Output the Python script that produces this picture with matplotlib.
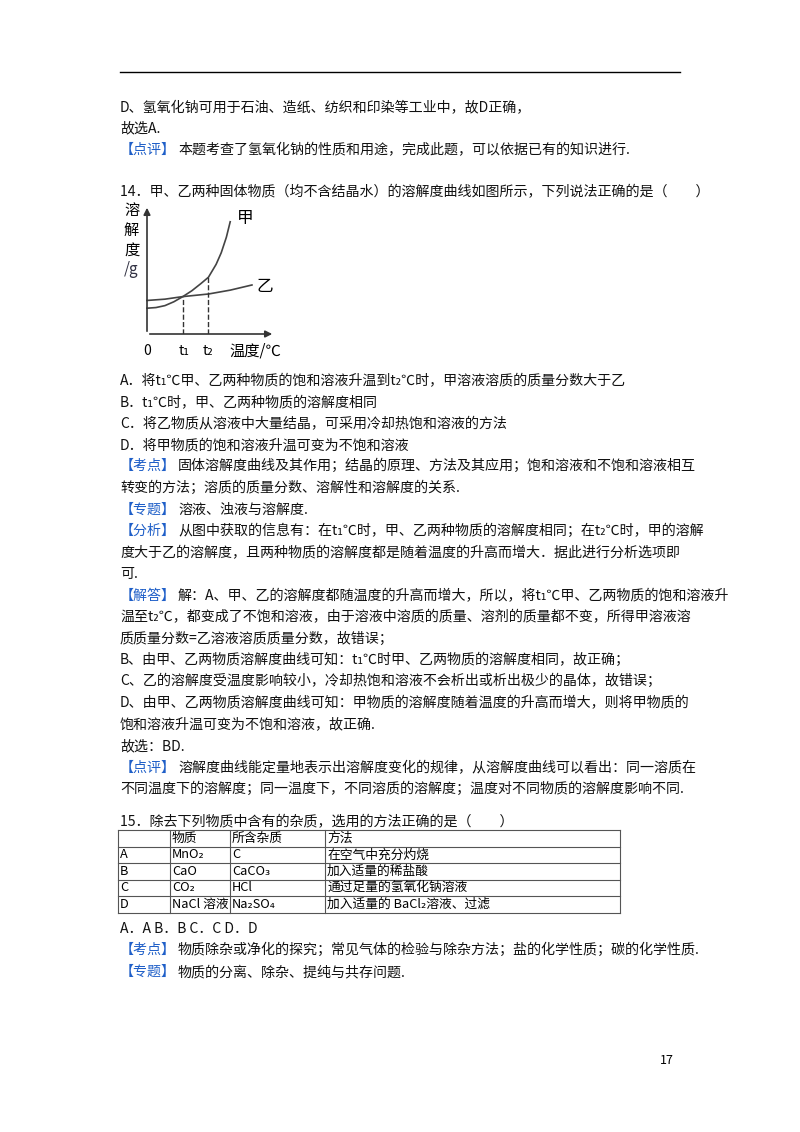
import matplotlib
matplotlib.use("Agg")
import matplotlib.pyplot as plt
import numpy as np

plt.rcParams['font.family'] = ['Noto Sans CJK SC', 'DejaVu Sans']

# chart data (temperature in arbitrary units, solubility in arbitrary units)
jia_x = [0, 0.7, 1.4, 2.1, 2.8, 3.5, 4.2, 4.8, 5.4, 5.8, 6.2, 6.5]
jia_y = [2.0, 2.05, 2.2, 2.5, 2.9, 3.35, 3.9, 4.4, 5.4, 6.3, 7.5, 8.7]
yi_x = [0, 1.4, 2.8, 4.8, 6.5, 8.2]
yi_y = [2.6, 2.7, 2.9, 3.1, 3.4, 3.8]
t1, t2 = 2.8, 4.8

table_rows = [["", "物质", "所含杂质", "方法"],
              ["A", "MnO₂", "C", "在空气中充分灼烧"],
              ["B", "CaO", "CaCO₃", "加入适量的稀盐酸"],
              ["C", "CO₂", "HCl", "通过足量的氢氧化钠溶液"],
              ["D", "NaCl 溶液", "Na₂SO₄", "加入适量的 BaCl₂溶液、过滤"]]

W, H = 800, 1132
fig = plt.figure(figsize=(8, 11.32), dpi=100)
ax = fig.add_axes([0, 0, 1, 1])
ax.set_xlim(0, W); ax.set_ylim(H, 0); ax.axis('off')

FS = 10.1
BLUE = '#1f5fc8'
ax.plot([120, 680], [72, 72], color='black', lw=1)

def line(y, text, tag=None, x=120):
    if tag:
        ax.text(x, y, '【' + tag + '】', fontsize=FS, color=BLUE, va='center')
        x += 14 * (len(tag) + 2) + 2
    ax.text(x, y, text, fontsize=FS, va='center', color='#111111')

line(108, "D、氢氧化钠可用于石油、造纸、纺织和印染等工业中，故D正确，")
line(128, "故选A.")
line(150, "本题考查了氢氧化钠的性质和用途，完成此题，可以依据已有的知识进行.", "点评")
line(192, "14．甲、乙两种固体物质（均不含结晶水）的溶解度曲线如图所示，下列说法正确的是（　　）")
line(381, "A．将t₁℃甲、乙两种物质的饱和溶液升温到t₂℃时，甲溶液溶质的质量分数大于乙")
line(403, "B．t₁℃时，甲、乙两种物质的溶解度相同")
line(424, "C．将乙物质从溶液中大量结晶，可采用冷却热饱和溶液的方法")
line(445, "D．将甲物质的饱和溶液升温可变为不饱和溶液")
line(466, "固体溶解度曲线及其作用；结晶的原理、方法及其应用；饱和溶液和不饱和溶液相互", "考点")
line(488, "转变的方法；溶质的质量分数、溶解性和溶解度的关系.")
line(510, "溶液、浊液与溶解度.", "专题")
line(531, "从图中获取的信息有：在t₁℃时，甲、乙两种物质的溶解度相同；在t₂℃时，甲的溶解", "分析")
line(553, "度大于乙的溶解度，且两种物质的溶解度都是随着温度的升高而增大．据此进行分析选项即")
line(574, "可.")
line(596, "解：A、甲、乙的溶解度都随温度的升高而增大，所以，将t₁℃甲、乙两物质的饱和溶液升", "解答")
line(617, "温至t₂℃，都变成了不饱和溶液，由于溶液中溶质的质量、溶剂的质量都不变，所得甲溶液溶")
line(639, "质质量分数=乙溶液溶质质量分数，故错误；")
line(660, "B、由甲、乙两物质溶解度曲线可知：t₁℃时甲、乙两物质的溶解度相同，故正确；")
line(681, "C、乙的溶解度受温度影响较小，冷却热饱和溶液不会析出或析出极少的晶体，故错误；")
line(703, "D、由甲、乙两物质溶解度曲线可知：甲物质的溶解度随着温度的升高而增大，则将甲物质的")
line(724, "饱和溶液升温可变为不饱和溶液，故正确.")
line(746, "故选：BD.")
line(768, "溶解度曲线能定量地表示出溶解度变化的规律，从溶解度曲线可以看出：同一溶质在", "点评")
line(789, "不同温度下的溶解度；同一温度下，不同溶质的溶解度；温度对不同物质的溶解度影响不同.")
line(822, "15．除去下列物质中含有的杂质，选用的方法正确的是（　　）")
line(929, "A．A B．B C．C D．D")
line(950, "物质除杂或净化的探究；常见气体的检验与除杂方法；盐的化学性质；碳的化学性质.", "考点")
line(972, "物质的分离、除杂、提纯与共存问题.", "专题")
ax.text(660, 1060, "17", fontsize=9, va='center')

# table
col_x = [118, 170, 230, 325, 620]
row_y = [830, 846.5, 863, 879.5, 896, 913]
for y in row_y:
    ax.plot([col_x[0], col_x[-1]], [y, y], color='#555555', lw=0.8)
for x in col_x:
    ax.plot([x, x], [row_y[0], row_y[-1]], color='#555555', lw=0.8)
for r, row in enumerate(table_rows):
    for c, cell in enumerate(row):
        ax.text(col_x[c] + 2, (row_y[r] + row_y[r + 1]) / 2, cell, fontsize=9.2, va='center')

# inset chart
def fx(px): return px / W
def fy(py): return 1 - py / H
cax = fig.add_axes([fx(147), fy(334), (275 - 147) / W, (334 - 205) / H])
cax.set_xlim(0, 10); cax.set_ylim(0, 10)
for s in cax.spines.values():
    s.set_visible(False)
cax.set_xticks([]); cax.set_yticks([])
cax.patch.set_alpha(0)
cax.annotate('', xy=(10, 0), xytext=(0, 0), xycoords='data',
             arrowprops=dict(arrowstyle='-|>', color='#333333', lw=1.2), annotation_clip=False)
cax.annotate('', xy=(0, 10), xytext=(0, 0),
             arrowprops=dict(arrowstyle='-|>', color='#333333', lw=1.2), annotation_clip=False)
cax.plot(jia_x, jia_y, color='#444444', lw=1.2, clip_on=False)
cax.plot(yi_x, yi_y, color='#444444', lw=1.2, clip_on=False)
cax.plot([t1, t1], [0, np.interp(t1, yi_x, yi_y)], ls='--', color='#333333', lw=1)
cax.plot([t2, t2], [0, np.interp(t2, jia_x, jia_y)], ls='--', color='#333333', lw=1)

ax.text(237, 218, "甲", fontsize=12, va='center')
ax.text(256, 286, "乙", fontsize=12, va='center')
for i, ch in enumerate("溶解度"):
    ax.text(124, 210 + i * 20, ch, fontsize=11, va='center')
ax.text(124, 270, "/g", fontsize=11, va='center', color='#334')
ax.text(143, 351, "0", fontsize=10, va='center')
ax.text(179, 351, "t₁", fontsize=10, va='center')
ax.text(203, 351, "t₂", fontsize=10, va='center')
ax.text(229, 351, "温度/℃", fontsize=11, va='center')

fig.savefig("out.png", dpi=100)
